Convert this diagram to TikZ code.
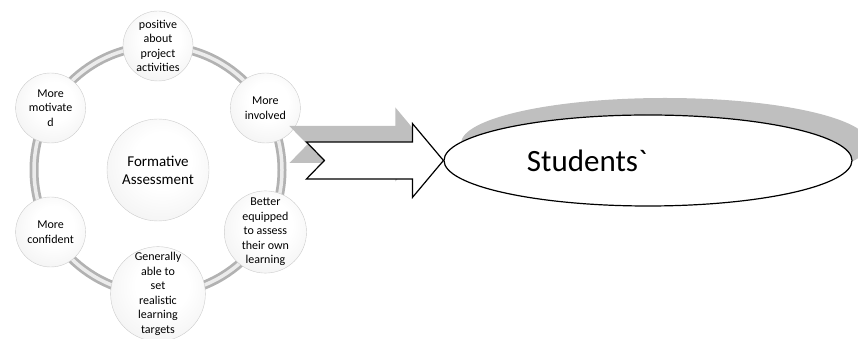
\documentclass[tikz,border=0pt]{standalone}
\usepackage{fontspec}
\setmainfont{Carlito}[Ligatures=TeXOff]
\usepackage{tikz}
\usetikzlibrary{shapes.geometric, positioning, calc}

% glossy look of the round buttons
\pgfdeclareradialshading{sphere}{\pgfpoint{3bp}{6bp}}{%
  color(0bp)=(white); color(14bp)=(white); color(32bp)=(gray!10);
  color(46bp)=(gray!22); color(54bp)=(gray!45); color(62bp)=(gray!45)}

\begin{document}
\begin{tikzpicture}[
    x=1pt, y=1pt,
    every node/.style={font=\fontsize{12}{14.5}\selectfont, align=center, text=black},
    ball/.style={circle, minimum size=70pt, inner sep=0pt, shading=sphere, draw=gray!40, thin},
    hubball/.style={ball, minimum size=102pt, font=\fontsize{15}{18}\selectfont},
    ringline/.style={line width=9pt, gray!60},
    ringshine/.style={line width=3.5pt, gray!15},
    blockarrow/.style={draw=black, fill=white, line width=1.2pt, line join=miter},
    arrowshadow/.style={fill=gray!50, draw=none},
    outcome/.style={ellipse, draw=black, line width=1.2pt, fill=white,
        minimum width=408pt, minimum height=91pt, inner sep=0pt},
    bigtext/.style={font=\fontsize{31}{36}\selectfont}
]

\def\R{124}      % radius of the ring

\useasboundingbox (0,0) rectangle (858,339);

% ring behind the buttons
\coordinate (ctr) at (158,169);
\draw[ringline]  (ctr) circle (\R pt);
\draw[ringshine] (ctr) circle (\R pt);

% centre and outer buttons
\node[hubball] (hub) at (ctr) {Formative\\Assessment};
\node[ball] (s1) at ([shift={(90:\R)}]ctr)  {positive\\about\\project\\activities};
\node[ball] (s2) at ([shift={(30:\R)}]ctr)  {More\\involved};
\node[ball] (s3) at ([shift={(-30:\R)}]ctr) {Better\\equipped\\to assess\\their own\\learning};
\node[ball] (s4) at ([shift={(-90:\R)}]ctr) {Generally\\able to\\set\\realistic\\learning\\targets};
\node[ball] (s5) at ([shift={(210:\R)}]ctr) {More\\confident};
\node[ball] (s6) at ([shift={(150:\R)}]ctr) {More\\motivate\\d};

% outcome ellipse with its shadow
\coordinate (oc) at (648,178.5);
\node[outcome, fill=gray!50, draw=none] (studshadow) at ([shift={(17,17)}]oc) {};
\node[outcome] (stud) at (oc) {};
\node[bigtext] (studtxt) at ([xshift=-61]stud.center) {Students`};

% block arrow pointing at the ellipse
\coordinate (tip) at (stud.west);
\fill[arrowshadow] ([shift={(-17,16)}]tip) -- ++(-31,37) -- ++(0,-18.5) -- ++(-106,0)
    -- ++(18,-18.5) -- ++(-18,-18.5) -- ++(106,0) -- ++(0,-18.5) -- cycle;
\draw[blockarrow] (tip) -- ++(-31,37) -- ++(0,-18.5) -- ++(-106,0)
    -- ++(18,-18.5) -- ++(-18,-18.5) -- ++(106,0) -- ++(0,-18.5) -- cycle;

\end{tikzpicture}
\end{document}
